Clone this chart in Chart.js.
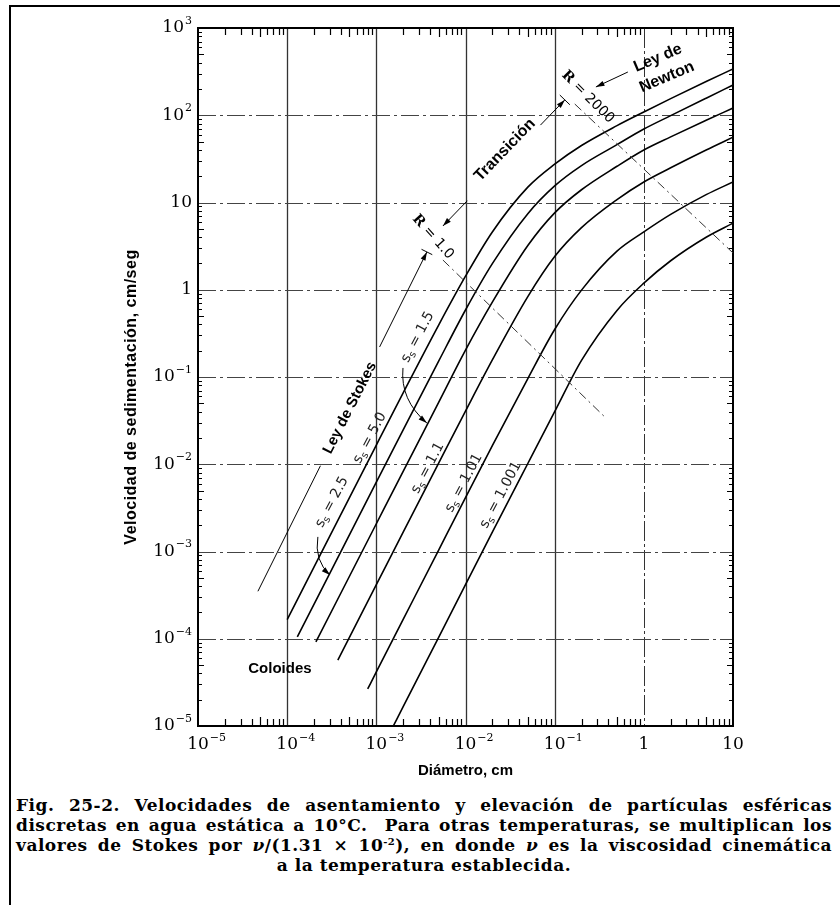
<!DOCTYPE html>
<html><head><meta charset="utf-8">
<script src="https://cdn.jsdelivr.net/npm/chart.js@4/dist/chart.umd.min.js"></script>
<style>
html,body{margin:0;padding:0;background:#fff;}
#wrap{position:relative;width:840px;height:905px;overflow:hidden;background:#fff;}
#frame{position:absolute;left:9px;top:5px;right:-10px;bottom:-10px;border-left:2px solid #000;border-top:2px solid #000;}
#c{position:absolute;left:0;top:0;}
#cap{position:absolute;left:16px;top:795px;width:816px;font:bold 17px "DejaVu Serif",serif;letter-spacing:0.5px;line-height:20px;color:#000;}
.j{text-align:justify;text-align-last:justify;white-space:nowrap;}
.c{text-align:center;}
sup{font-size:10px;line-height:0;vertical-align:6px;}
</style></head>
<body><div id="wrap"><div id="frame"></div><canvas id="c" width="840" height="790"></canvas>
<div id="cap">
<div class="j">Fig. 25-2. Velocidades de asentamiento y elevación de partículas esféricas</div>
<div class="j">discretas en agua estática a 10°C.&nbsp; Para otras temperaturas, se multiplican los</div>
<div class="j">valores de Stokes por <i>ν</i>/(1.31 × 10<sup>-2</sup>), en donde <i>ν</i> es la viscosidad cinemática</div>
<div class="c">a la temperatura establecida.</div>
</div></div>
<script>
// ---- data (diameter cm, velocity cm/s) ----
const specificGravities = ['5.0','2.5','1.5','1.1','1.01','1.001'];
const diam_ss50  = [1e-4, 1e-3, 2e-3, 5e-3, 1e-2, 2e-2, 5e-2, 0.1, 0.2, 0.5, 1, 2, 5, 10];
const vel_ss50   = [1.66e-4, 0.0166, 0.0658, 0.394, 1.43, 4.6, 15.0, 27.5, 45, 76, 109, 155, 244, 339];
const diam_ss25  = [1.3e-4, 1e-3, 2e-3, 5e-3, 1e-2, 2e-2, 5e-2, 0.1, 0.2, 0.5, 1, 2, 5, 10];
const vel_ss25   = [1.05e-4, 6.24e-3, 0.0248, 0.152, 0.586, 1.99, 7.45, 15.5, 26.5, 46, 69.5, 99, 157, 222];
const diam_ss15  = [2.1e-4, 1e-3, 2e-3, 5e-3, 1e-2, 2e-2, 5e-2, 0.1, 0.2, 0.5, 1, 2, 5, 10];
const vel_ss15   = [9.2e-5, 2.08e-3, 8.3e-3, 0.0511, 0.203, 0.72, 3.21, 7.6, 14, 26, 40, 56.5, 87.5, 121];
const diam_ss11  = [3.7e-4, 1e-3, 2e-3, 5e-3, 1e-2, 2e-2, 5e-2, 0.1, 0.2, 0.5, 1, 2, 5, 10];
const vel_ss11   = [5.7e-5, 4.16e-4, 1.664e-3, 0.0103, 0.0407, 0.157, 0.835, 2.4, 5.15, 10.8, 17.2, 25, 40, 56];
const diam_ss101 = [8e-4, 1e-3, 2e-3, 5e-3, 1e-2, 2e-2, 5e-2, 0.1, 0.2, 0.5, 1, 2, 5, 10];
const vel_ss101  = [2.66e-5, 4.16e-5, 1.664e-4, 1.04e-3, 4.15e-3, 0.0163, 0.096, 0.35, 0.99, 2.77, 4.6, 7.3, 12.3, 17.2];
const diam_ss1001= [1.55e-3, 2e-3, 5e-3, 1e-2, 2e-2, 5e-2, 0.1, 0.2, 0.5, 1, 2, 5, 10];
const vel_ss1001 = [1e-5, 1.664e-5, 1.04e-4, 4.16e-4, 1.664e-3, 0.0102, 0.04, 0.155, 0.58, 1.19, 2.15, 4.0, 5.8];

// tick labels
const xTickValues = [1e-5, 1e-4, 1e-3, 1e-2, 1e-1, 1, 10];
const xTickBase   = ['10','10','10','10','10','1','10'];
const xTickExp    = ['\u22125','\u22124','\u22123','\u22122','\u22121','',''];
const yTickValues = [1e3, 1e2, 10, 1, 1e-1, 1e-2, 1e-3, 1e-4, 1e-5];
const yTickBase   = ['10','10','10','1','10','10','10','10','10'];
const yTickExp    = ['3','2','','','\u22121','\u22122','\u22123','\u22124','\u22125'];

// annotation anchors in data units [diameter, velocity]
const stokesLine   = [[4.7e-5, 3.5e-4], [3.69e-3, 2.71]];
const stokesLabel  = [5.06e-4, 0.0442];
const transLine    = [[5.58e-3, 5.38], [0.13, 150]];
const transLabel   = [0.0277, 40];
const r1Line       = [[5.58e-3, 2.19], [0.375, 0.0339]];
const r1Label      = [4.32e-3, 4.03];
const r2000Line    = [[0.168, 134.6], [10, 2.64]];
const r2000Label   = [0.2355, 161.8];
const newtonArrow  = [[0.662, 313], [0.29, 211]];
const newtonLabel1 = [1.44, 453];
const newtonLabel2 = [1.81, 274];
const ssLabelPos   = [[8.47e-4, 0.02], [3.18e-4, 3.69e-3], [2.92e-3, 0.287], [3.78e-3, 9.06e-3], [9.6e-3, 6.1e-3], [0.0249, 4.45e-3]];
const arrow15      = [[1.99e-3, 0.127], [1.84e-3, 0.0545], [3.69e-3, 0.0297]];
const arrow25      = [[2.21e-4, 1.47e-3], [2.0e-4, 7.9e-4], [3.02e-4, 5.38e-4]];
const coloidesPos  = [8.3e-5, 4.5e-5];

const curves = [
  [diam_ss50, vel_ss50], [diam_ss25, vel_ss25], [diam_ss15, vel_ss15],
  [diam_ss11, vel_ss11], [diam_ss101, vel_ss101], [diam_ss1001, vel_ss1001]
];

const datasets = curves.map((c, k) => ({
  label: 'ss = ' + specificGravities[k],
  data: c[0].map((d, i) => ({x: d, y: c[1][i]})),
  borderColor: '#000', borderWidth: 1.6, pointRadius: 0, showLine: true,
  cubicInterpolationMode: 'monotone', fill: false
}));

function P(chart, p){ return [chart.scales.x.getPixelForValue(p[0]), chart.scales.y.getPixelForValue(p[1])]; }

function arrowHead(ctx, x0, y0, x1, y1, size){
  const a = Math.atan2(y1-y0, x1-x0);
  ctx.beginPath();
  ctx.moveTo(x1, y1);
  ctx.lineTo(x1 - size*Math.cos(a-0.3), y1 - size*Math.sin(a-0.3));
  ctx.lineTo(x1 - size*Math.cos(a+0.3), y1 - size*Math.sin(a+0.3));
  ctx.closePath(); ctx.fill();
}
function seg(ctx, a, b, t0, t1){
  ctx.beginPath();
  ctx.moveTo(a[0]+(b[0]-a[0])*t0, a[1]+(b[1]-a[1])*t0);
  ctx.lineTo(a[0]+(b[0]-a[0])*t1, a[1]+(b[1]-a[1])*t1);
  ctx.stroke();
}
function rotText(ctx, txt, p, rotDeg, font){
  ctx.save(); ctx.translate(p[0], p[1]); ctx.rotate(rotDeg*Math.PI/180);
  ctx.font = font; ctx.textAlign = 'center'; ctx.textBaseline = 'middle';
  ctx.fillText(txt, 0, 0); ctx.restore();
}
function ssText(ctx, p, val, rotDeg){
  ctx.save(); ctx.translate(p[0], p[1]); ctx.rotate(rotDeg*Math.PI/180);
  const f1 = '14px "DejaVu Sans"', f2 = '10px "DejaVu Sans"';
  ctx.font = f1; const w1 = ctx.measureText('s').width, w3 = ctx.measureText(' = ' + val).width;
  ctx.font = f2; const w2 = ctx.measureText('s').width;
  let x = -(w1+w2+w3)/2;
  ctx.textAlign = 'left'; ctx.textBaseline = 'middle'; ctx.fillStyle = '#222';
  ctx.font = f1; ctx.fillText('s', x, 0); x += w1;
  ctx.font = f2; ctx.fillText('s', x, 4); x += w2;
  ctx.font = f1; ctx.fillText(' = ' + val, x, 0);
  ctx.restore();
}

const decor = {
  id: 'decor',
  beforeDatasetsDraw(chart){
    const ctx = chart.ctx, ca = chart.chartArea, xs = chart.scales.x, ys = chart.scales.y;
    ctx.save();
    ctx.strokeStyle = '#333'; ctx.lineWidth = 1;
    [1e-4, 1e-3, 1e-2, 1e-1, 1].forEach((v, i) => {
      const x = Math.round(xs.getPixelForValue(v)) + 0.5;
      ctx.setLineDash(i === 4 ? [20, 3, 3, 3] : []);
      ctx.lineWidth = i === 4 ? 1 : 1.3;
      ctx.beginPath(); ctx.moveTo(x, ca.top); ctx.lineTo(x, ca.bottom); ctx.stroke();
    });
    ctx.lineWidth = 1.1; ctx.strokeStyle = '#444';
    [1e2, 10, 1, 1e-1, 1e-2, 1e-3, 1e-4].forEach(v => {
      const y = Math.round(ys.getPixelForValue(v)) + 0.5;
      ctx.setLineDash([18, 4, 3, 4]);
      ctx.beginPath(); ctx.moveTo(ca.left, y); ctx.lineTo(ca.right, y); ctx.stroke();
    });
    ctx.setLineDash([]);
    ctx.strokeStyle = '#000'; ctx.lineWidth = 1.2;
    for (let e = -5; e < 1; e++) for (let m = 2; m < 10; m++) {
      const x = Math.round(xs.getPixelForValue(m*Math.pow(10, e))) + 0.5;
      const L = m === 5 ? 9 : 7;
      ctx.beginPath(); ctx.moveTo(x, ca.bottom); ctx.lineTo(x, ca.bottom - L);
      ctx.moveTo(x, ca.top); ctx.lineTo(x, ca.top + L); ctx.stroke();
    }
    for (let e = -5; e < 3; e++) for (let m = 2; m < 10; m++) {
      const y = Math.round(ys.getPixelForValue(m*Math.pow(10, e))) + 0.5;
      const L = m === 5 ? 6 : 4;
      ctx.beginPath(); ctx.moveTo(ca.left, y); ctx.lineTo(ca.left + L, y);
      ctx.moveTo(ca.right, y); ctx.lineTo(ca.right - L, y); ctx.stroke();
    }
    ctx.restore();
  },
  afterDatasetsDraw(chart){
    const ctx = chart.ctx, ca = chart.chartArea, xs = chart.scales.x, ys = chart.scales.y;
    ctx.save();
    ctx.fillStyle = '#000'; ctx.strokeStyle = '#000';
    ctx.lineWidth = 2; ctx.strokeRect(ca.left, ca.top, ca.right - ca.left, ca.bottom - ca.top);
    const fb = '17px "DejaVu Serif"', fe = '11px "DejaVu Serif"';
    ctx.textBaseline = 'middle';
    xTickValues.forEach((v, i) => {
      const x = xs.getPixelForValue(v), y = ca.bottom + 19;
      ctx.font = fb; const wb = ctx.measureText(xTickBase[i]).width;
      ctx.textAlign = 'left';
      ctx.fillText(xTickBase[i], x - wb/2, y);
      if (xTickExp[i]) { ctx.font = fe; ctx.fillText(xTickExp[i], x + wb/2 + 1, y - 7); }
    });
    yTickValues.forEach((v, i) => {
      const y = ys.getPixelForValue(v), xr = ca.left - 6;
      ctx.font = fe; const we = yTickExp[i] ? ctx.measureText(yTickExp[i]).width + 1 : 0;
      ctx.textAlign = 'right';
      if (yTickExp[i]) ctx.fillText(yTickExp[i], xr, y - 7);
      ctx.font = fb; ctx.fillText(yTickBase[i], xr - we, y);
    });
    ctx.textAlign = 'center';
    ctx.font = 'bold 15px "Liberation Sans"';
    ctx.fillText('Diámetro, cm', (ca.left + ca.right)/2, ca.bottom + 45);
    ctx.save(); ctx.translate(ca.left - 66, (ca.top + ca.bottom)/2 + 20); ctx.rotate(-Math.PI/2);
    ctx.font = 'bold 16px "Liberation Sans"'; ctx.letterSpacing = '0.5px';
    ctx.fillText('Velocidad de sedimentación, cm/seg', 0, 0); ctx.restore();

    ctx.lineWidth = 1;
    const sA = P(chart, stokesLine[0]), sB = P(chart, stokesLine[1]);
    seg(ctx, sA, sB, 0, 0.37); seg(ctx, sA, sB, 0.72, 1);
    arrowHead(ctx, sA[0], sA[1], sB[0], sB[1], 9);
    { const a = Math.atan2(sB[1]-sA[1], sB[0]-sA[0]) + Math.PI/2;
      ctx.beginPath(); ctx.moveTo(sB[0] - 6*Math.cos(a), sB[1] - 6*Math.sin(a));
      ctx.lineTo(sB[0] + 6*Math.cos(a), sB[1] + 6*Math.sin(a)); ctx.stroke(); }
    rotText(ctx, 'Ley de Stokes', P(chart, stokesLabel), -63, 'bold 15px "Liberation Sans"');

    const tA = P(chart, transLine[0]), tB = P(chart, transLine[1]);
    seg(ctx, tA, tB, 0, 0.2); seg(ctx, tA, tB, 0.8, 1);
    arrowHead(ctx, tB[0], tB[1], tA[0], tA[1], 9);
    arrowHead(ctx, tA[0], tA[1], tB[0], tB[1], 9);
    { const a = Math.atan2(tB[1]-tA[1], tB[0]-tA[0]) + Math.PI/2;
      ctx.beginPath(); ctx.moveTo(tB[0] - 7*Math.cos(a), tB[1] - 7*Math.sin(a));
      ctx.lineTo(tB[0] + 7*Math.cos(a), tB[1] + 7*Math.sin(a)); ctx.stroke(); }
    rotText(ctx, 'Transición', P(chart, transLabel), -46, 'bold 16px "Liberation Sans"');

    ctx.lineWidth = 1; ctx.strokeStyle = '#333';
    ctx.setLineDash([9, 4, 2, 4]);
    const rA = P(chart, r1Line[0]), rB = P(chart, r1Line[1]);
    seg(ctx, rA, rB, 0, 1);
    const qA = P(chart, r2000Line[0]), qB = P(chart, r2000Line[1]);
    seg(ctx, qA, qB, 0, 1);
    ctx.setLineDash([]);
    ctx.strokeStyle = '#000';
    const drawR = (p, val, rot) => {
      ctx.save(); ctx.translate(p[0], p[1]); ctx.rotate(rot*Math.PI/180);
      ctx.textBaseline = 'middle'; ctx.textAlign = 'left';
      ctx.font = 'bold 14px "DejaVu Serif"'; const w1 = ctx.measureText('R').width;
      ctx.font = '14px "DejaVu Sans"'; const w2 = ctx.measureText(' = ' + val).width;
      let x = -(w1 + w2)/2;
      ctx.font = 'bold 14px "DejaVu Serif"'; ctx.fillText('R', x, 0);
      ctx.font = '14px "DejaVu Sans"'; ctx.fillText(' = ' + val, x + w1, 0);
      ctx.restore();
    };
    drawR(P(chart, r1Label), '1.0', 48);
    drawR(P(chart, r2000Label), '2000', 45);

    const nA = P(chart, newtonArrow[0]), nB = P(chart, newtonArrow[1]);
    seg(ctx, nA, nB, 0, 1); arrowHead(ctx, nA[0], nA[1], nB[0], nB[1], 9);
    rotText(ctx, 'Ley de', P(chart, newtonLabel1), -23, 'bold 16px "Liberation Sans"');
    rotText(ctx, 'Newton', P(chart, newtonLabel2), -23, 'bold 16px "Liberation Sans"');

    ssLabelPos.forEach((p, i) => ssText(ctx, P(chart, p), specificGravities[i], -62));
    [arrow15, arrow25].forEach(ar => {
      const a = P(chart, ar[0]), c = P(chart, ar[1]), b = P(chart, ar[2]);
      ctx.lineWidth = 1; ctx.beginPath(); ctx.moveTo(a[0], a[1]);
      ctx.quadraticCurveTo(c[0], c[1], b[0], b[1]); ctx.stroke();
      arrowHead(ctx, c[0], c[1], b[0], b[1], 9);
    });
    ctx.fillStyle = '#000';
    rotText(ctx, 'Coloides', P(chart, coloidesPos), 0, 'bold 15px "Liberation Sans"');
    ctx.restore();
  }
};

new Chart(document.getElementById('c'), {
  type: 'scatter',
  data: { datasets },
  options: {
    responsive: false, animation: false, devicePixelRatio: 1,
    layout: { padding: { left: 198, top: 28, right: 107, bottom: 64 } },
    plugins: { legend: { display: false }, tooltip: { enabled: false } },
    scales: {
      x: { type: 'logarithmic', min: 1e-5, max: 10, display: false },
      y: { type: 'logarithmic', min: 1e-5, max: 1e3, display: false }
    }
  },
  plugins: [decor]
});
</script>
</body></html>
